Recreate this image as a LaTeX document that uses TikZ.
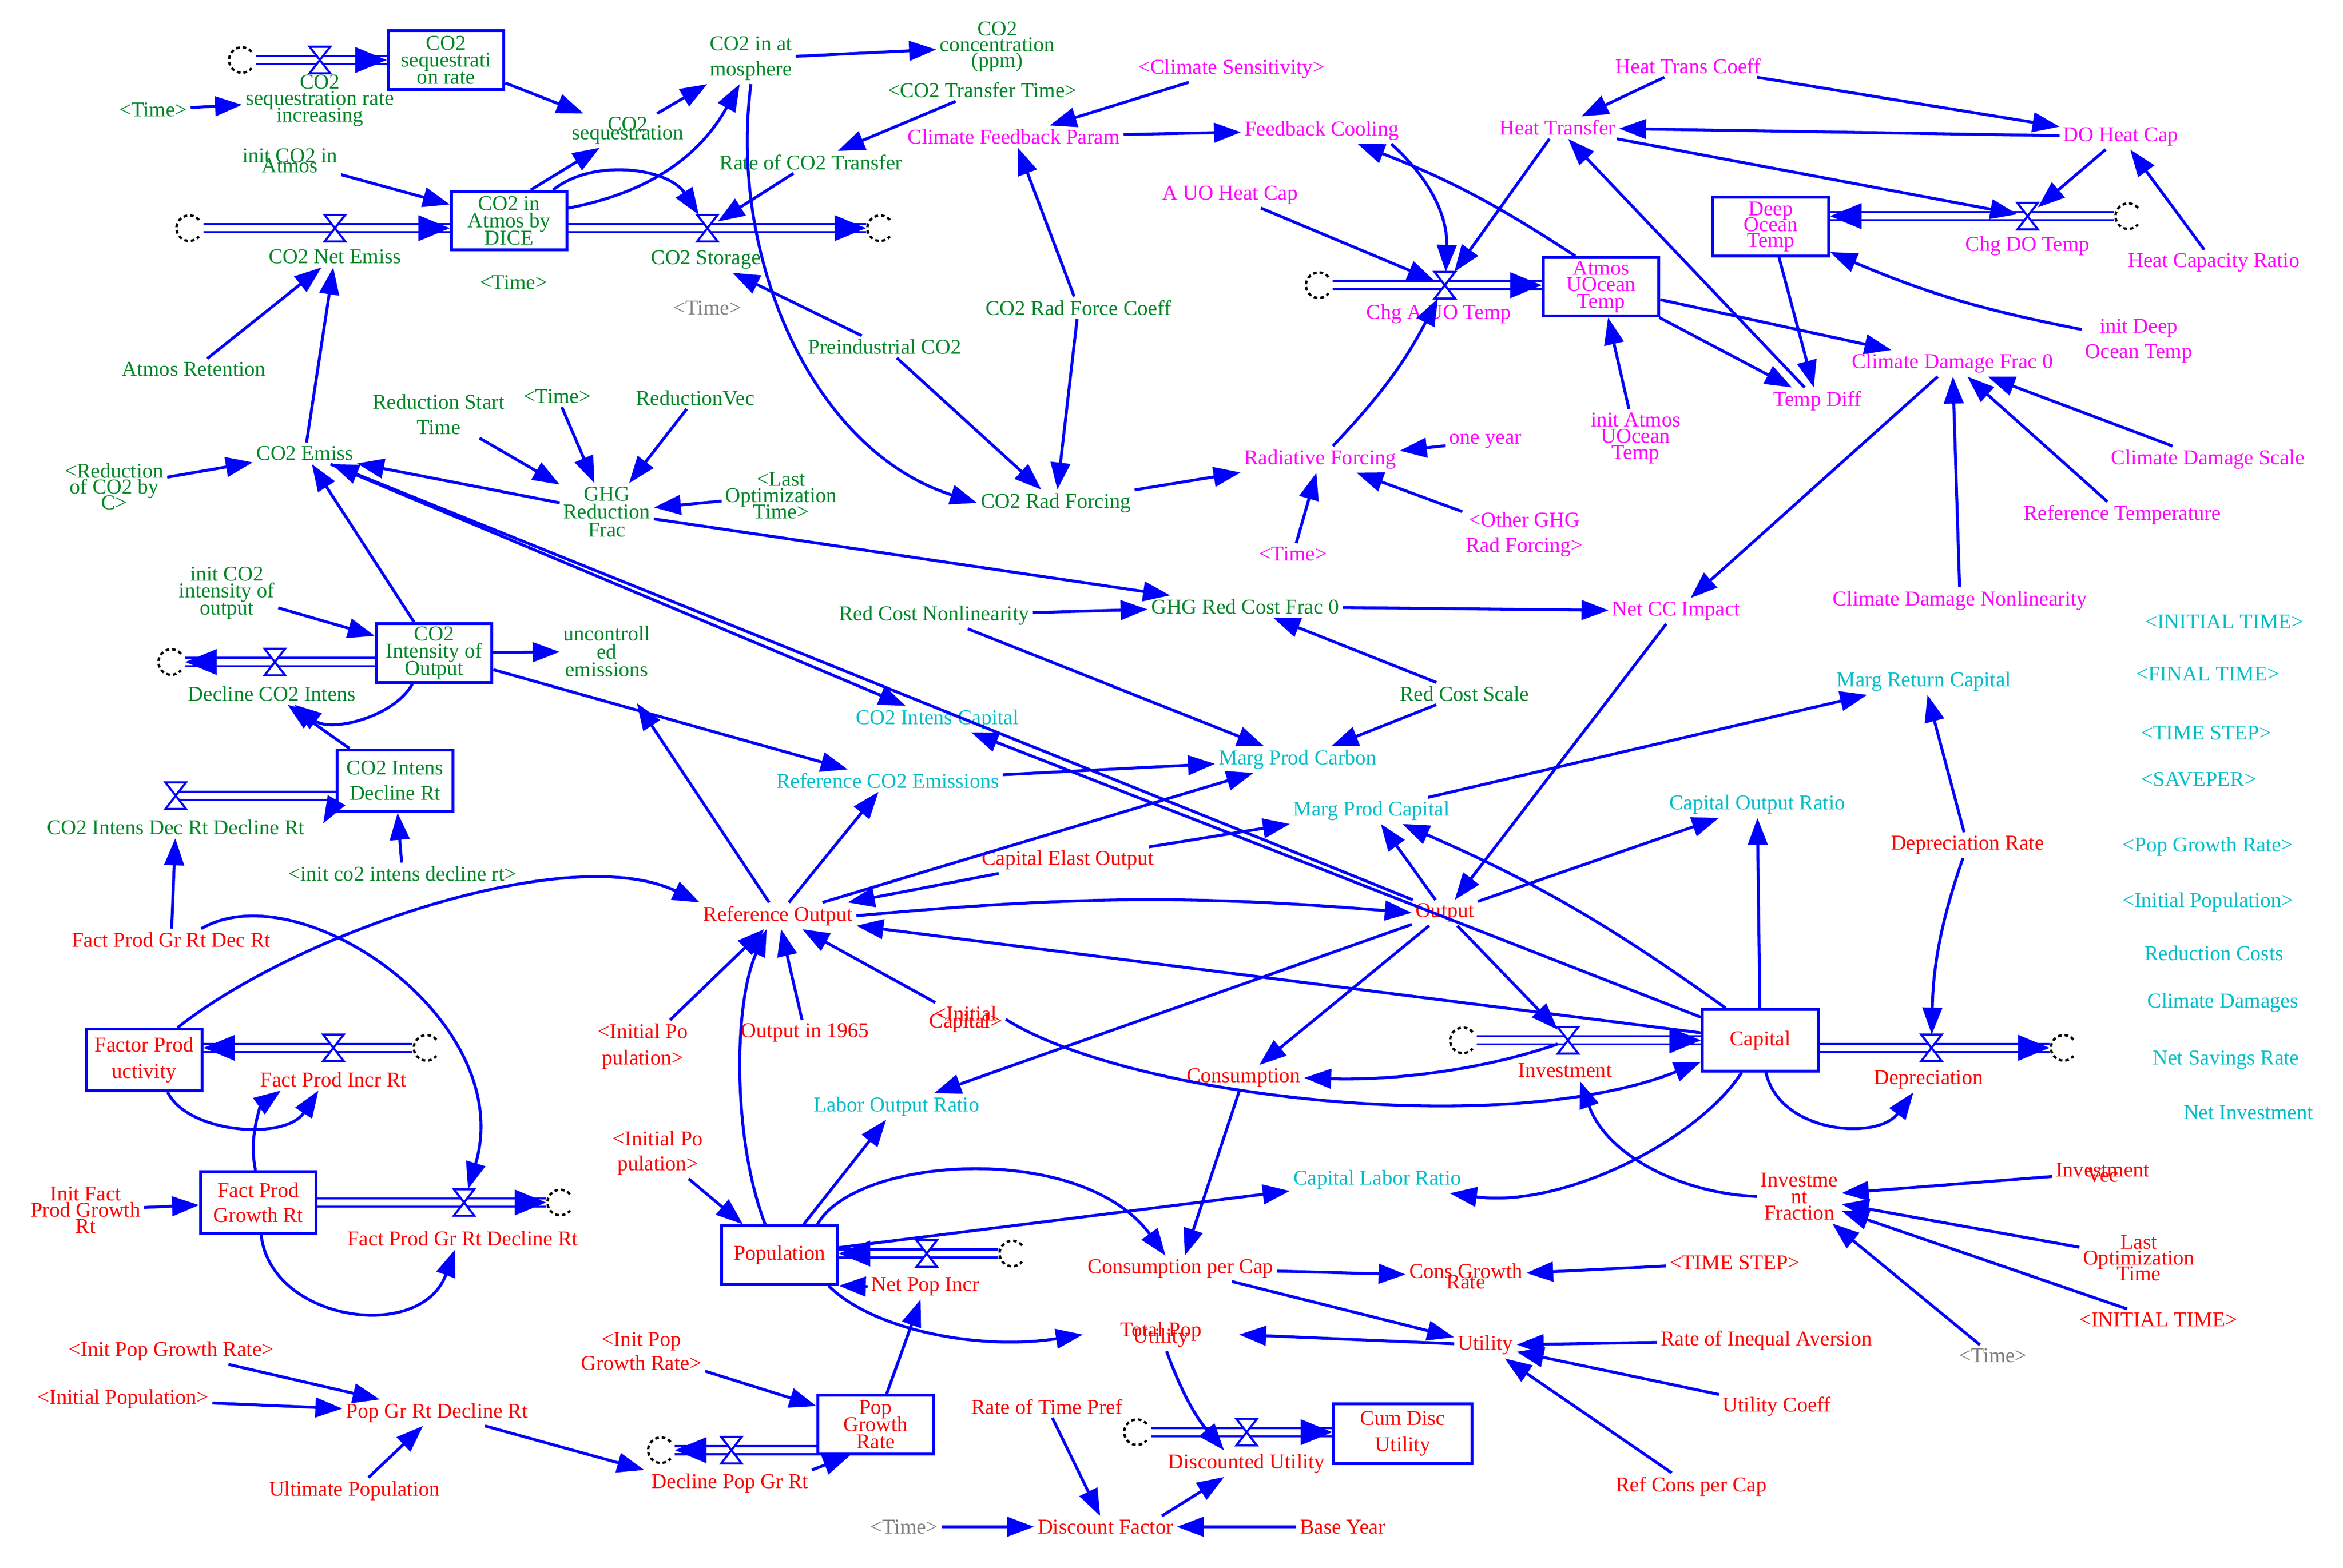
\documentclass[tikz,border=0pt]{standalone}
\usepackage{fontspec}
\setmainfont{Liberation Serif}
\usetikzlibrary{arrows.meta}
\definecolor{cgreen}{RGB}{0,135,40}
\definecolor{cmag}{RGB}{255,0,255}
\definecolor{cred}{RGB}{255,0,0}
\definecolor{ccyan}{RGB}{0,190,200}
\definecolor{cgray}{RGB}{128,128,128}
\definecolor{cblue}{RGB}{0,0,255}
\tikzset{
 lblbase/.style={inner sep=1.2pt, align=center, font={\fontsize{8}{9.6}\selectfont\lineskiplimit=-20pt}},
 lsk/.style={font={\fontsize{8}{#1}\selectfont\lineskiplimit=-20pt}},
 tg/.style={lblbase, text=cgreen},
 tm/.style={lblbase, text=cmag},
 tr/.style={lblbase, text=cred},
 tc/.style={lblbase, text=ccyan},
 tgy/.style={lblbase, text=cgray},
 stock/.style={draw=cblue, line width=1.1pt, fill=white, minimum width=1.54cm, minimum height=0.78cm},
 arr/.style={draw=cblue, line width=1.1pt, -{Triangle[length=0.36cm,width=0.26cm]}},
 pipe/.style={draw=cblue, double=white, line width=0.8pt, double distance=2.3pt},
 ptip/.style={draw=cblue, line width=0.8pt, -{Triangle[length=0.42cm,width=0.34cm]}},
 valvenode/.style={inner sep=0pt, minimum width=0.26cm, minimum height=0.34cm},
 cloudnode/.style={circle, inner sep=0pt, minimum size=0.36cm},
 valvest/.style={draw=cblue, line width=0.8pt, fill=white, line join=miter},
 cloudst/.style={draw=black, line width=0.9pt, dash pattern=on 1.4pt off 1.1pt},
}
\newcommand{\valveX}[1]{\draw[valvest] (#1.north west) -- (#1.north east) -- (#1.center) -- cycle (#1.south west) -- (#1.south east) -- (#1.center) -- cycle;}
\newcommand{\cloudC}[1]{\draw[cloudst] (#1.center) ++(40:0.17cm) arc[start angle=40,end angle=320,radius=0.17cm];}
\begin{document}
\begin{tikzpicture}[x=0.02cm,y=-0.02cm]
\fill[white] (0,0) rectangle (1560,1044.46);
\useasboundingbox (0,0) rectangle (1560,1044.46);
% ---------------- green
\node[cloudnode] (cl1) at (161,40) {};
\node[valvenode] (v1) at (213,40) {};
\node[stock,tg,lsk=6.5pt] (bSeq) at (297,40) {CO2\\sequestrati\\on rate};
\node[tg,lsk=6.2pt] (sri) at (213,67) {CO2\\sequestration rate\\increasing};
\node[tg] (t1) at (102,73) {<Time>};
\node[tg,lsk=3.2pt] (seq) at (418,87) {CO2\\sequestration};
\node[tg] (atm) at (500,39) {CO2 in at\\mosphere};
\node[tg,lsk=6pt] (conc) at (664,31) {CO2\\concentration\\(ppm)};
\node[tg] (ctt) at (654,60) {<CO2 Transfer Time>};
\node[tg] (rct) at (540,108) {Rate of CO2 Transfer};
\node[tg,lsk=3.8pt] (ica) at (193,107) {init CO2 in\\Atmos};
\node[cloudnode] (cl2) at (126,152) {};
\node[valvenode] (v2) at (223,152) {};
\node[tg] (cne) at (223,171) {CO2 Net Emiss};
\node[stock,tg,lsk=6.5pt] (bAtm) at (339,147) {CO2 in\\Atmos by\\DICE};
\node[valvenode] (v3) at (471,152) {};
\node[tg] (cst) at (470,173) {CO2 Storage};
\node[cloudnode] (cl3) at (586,152) {};
\node[tg] (t2) at (342,188) {<Time>};
\node[tgy] (t3) at (471,205) {<Time>};
\node[tg] (aret) at (129,246) {Atmos Retention};
\node[tg] (pre) at (589,231) {Preindustrial CO2};
\node[tg] (crfc) at (718,205) {CO2 Rad Force Coeff};
\node[tg] (rst) at (292,276) {Reduction Start\\Time};
\node[tg] (t4) at (371,264) {<Time>};
\node[tg] (rvec) at (463,265) {ReductionVec};
\node[tg,lsk=6pt] (rco2) at (76,324) {<Reduction\\of CO2 by\\C>};
\node[tg] (emiss) at (203,302) {CO2 Emiss};
\node[tg,lsk=6.8pt] (ghg) at (404,341) {GHG\\Reduction\\Frac};
\node[tg,lsk=6.2pt] (lot) at (520,330) {<Last\\Optimization\\Time>};
\node[tg] (crf) at (703,335) {CO2 Rad Forcing};
\node[tg,lsk=6.5pt] (ici) at (151,395) {init CO2\\intensity of\\output};
\node[stock,tg,lsk=6.5pt] (bInt) at (289,435) {CO2\\Intensity of\\Output};
\node[tg,lsk=6.8pt] (unc) at (404,434) {uncontroll\\ed\\emissions};
\node[cloudnode] (cl4) at (114,441) {};
\node[valvenode] (v4) at (183,441) {};
\node[tg] (dci) at (181,462) {Decline CO2 Intens};
\node[stock,tg,minimum height=0.82cm] (bIDR) at (263,520) {CO2 Intens\\Decline Rt};
\node[valvenode] (v5) at (117,530) {};
\node[tg] (cidr) at (117,551) {CO2 Intens Dec Rt Decline Rt};
\node[tg] (icidr) at (268,582) {<init co2 intens decline rt>};
\node[tg] (rcn) at (622,410) {Red Cost Nonlinearity};
\node[tg] (ghgrc) at (829,404) {GHG Red Cost Frac 0};
\node[tg] (rcs) at (975,462) {Red Cost Scale};
% ---------------- magenta
\node[tm] (cs) at (820,46) {<Climate Sensitivity>};
\node[tm] (cfp) at (675,91) {Climate Feedback Param};
\node[tm] (fc) at (880,87) {Feedback Cooling};
\node[tm] (ht) at (1037,85) {Heat Transfer};
\node[tm] (htc) at (1124,44) {Heat Trans Coeff};
\node[tm] (doh) at (1412,91) {DO Heat Cap};
\node[tm] (hcr) at (1474,175) {Heat Capacity Ratio};
\node[stock,tm,lsk=6pt] (bDOT) at (1179,151) {Deep\\Ocean\\Temp};
\node[cloudnode] (cl5) at (1417,144) {};
\node[valvenode] (v6) at (1350,144) {};
\node[tm] (cdot) at (1350,164) {Chg DO Temp};
\node[tm] (idot) at (1424,227) {init Deep\\Ocean Temp};
\node[tm] (auo) at (819,130) {A UO Heat Cap};
\node[cloudnode] (cl6) at (878,190) {};
\node[valvenode] (v7) at (962,190) {};
\node[tm] (cauo) at (958,209) {Chg A UO Temp};
\node[stock,tm,lsk=6.2pt] (bAUO) at (1066,191) {Atmos\\UOcean\\Temp};
\node[tm,lsk=6.2pt] (iauo) at (1089,292) {init Atmos\\UOcean\\Temp};
\node[tm] (td) at (1210,267) {Temp Diff};
\node[tm] (cdf) at (1300,242) {Climate Damage Frac 0};
\node[tm] (cds) at (1470,306) {Climate Damage Scale};
\node[tm] (rtemp) at (1413,343) {Reference Temperature};
\node[tm] (cdn) at (1305,400) {Climate Damage Nonlinearity};
\node[tm] (rf) at (879,306) {Radiative Forcing};
\node[tm] (oy) at (989,294) {one year};
\node[tm] (oghg) at (1015,356) {<Other GHG\\Rad Forcing>};
\node[tm] (t5) at (861,369) {<Time>};
\node[tm] (ncc) at (1116,407) {Net CC Impact};
% ---------------- cyan
\node[tc] (cic) at (624,479) {CO2 Intens Capital};
\node[tc] (rce) at (591,520) {Reference CO2 Emissions};
\node[tc] (mpc) at (864,506) {Marg Prod Carbon};
\node[tc] (mpk) at (913,540) {Marg Prod Capital};
\node[tc] (cor) at (1170,536) {Capital Output Ratio};
\node[tc] (mrc) at (1281,454) {Marg Return Capital};
\node[tc] (lor) at (597,737) {Labor Output Ratio};
\node[tc] (clr) at (917,786) {Capital Labor Ratio};
\node[tc] (q1) at (1481,414) {<INITIAL TIME>};
\node[tc] (q2) at (1470,449) {<FINAL TIME>};
\node[tc] (q3) at (1469,488) {<TIME STEP>};
\node[tc] (q4) at (1464,519) {<SAVEPER>};
\node[tc] (q5) at (1470,564) {<Pop Growth Rate>};
\node[tc] (q6) at (1470,601) {<Initial Population>};
\node[tc] (q7) at (1474,635) {Reduction Costs};
\node[tc] (q8) at (1480,668) {Climate Damages};
\node[tc] (q9) at (1482,706) {Net Savings Rate};
\node[tc] (q10) at (1497,741) {Net Investment};
% ---------------- red
\node[tr] (ro) at (518,610) {Reference Output};
\node[tr] (out) at (962,608) {Output};
\node[tr] (ceo) at (711,573) {Capital Elast Output};
\node[tr,lsk=2.7pt] (ic) at (643,679) {<Initial\\Capital>};
\node[tr] (o65) at (536,688) {Output in 1965};
\node[tr,lsk=10pt] (ip1) at (428,697) {<Initial Po\\pulation>};
\node[tr] (ip2) at (438,768) {<Initial Po\\pulation>};
\node[tr] (fpg) at (114,626) {Fact Prod Gr Rt Dec Rt};
\node[stock,tr,lsk=10pt,minimum height=0.82cm] (bFP) at (96,706) {Factor Prod\\uctivity};
\node[cloudnode] (cl7) at (284,698) {};
\node[valvenode] (v8) at (222,698) {};
\node[tr] (fpir) at (222,719) {Fact Prod Incr Rt};
\node[stock,tr,minimum height=0.82cm] (bFPG) at (172,801) {Fact Prod\\Growth Rt};
\node[tr,lsk=6.2pt] (ifpg) at (57,806) {Init Fact\\Prod Growth\\Rt};
\node[cloudnode] (cl8) at (373,801) {};
\node[valvenode] (v9) at (309,801) {};
\node[tr] (fpgdr) at (308,825) {Fact Prod Gr Rt Decline Rt};
\node[tr] (ipgr) at (114,900) {<Init Pop Growth Rate>};
\node[tr] (ipop) at (82,932) {<Initial Population>};
\node[tr] (pgrdr) at (291,941) {Pop Gr Rt Decline Rt};
\node[tr] (up) at (236,993) {Ultimate Population};
\node[tr,lsk=9pt] (ipgr2) at (427,900) {<Init Pop\\Growth Rate>};
\node[stock,tr,lsk=6.5pt] (bPGR) at (583,949) {Pop\\Growth\\Rate};
\node[cloudnode] (cl9) at (440,966) {};
\node[valvenode] (v10) at (487,966) {};
\node[tr] (dpgr) at (486,988) {Decline Pop Gr Rt};
\node[stock,tr] (bPop) at (519,836) {Population};
\node[cloudnode] (cl10) at (674,835) {};
\node[valvenode] (v14) at (617,835) {};
\node[tr] (npi) at (616,857) {Net Pop Incr};
\node[tr] (cons) at (828,718) {Consumption};
\node[tr] (cpc) at (786,845) {Consumption per Cap};
\node[tr,lsk=4pt] (cgr) at (976,850) {Cons Growth\\Rate};
\node[tr] (ts) at (1155,841) {<TIME STEP>};
\node[tr,lsk=2.5pt] (tpu) at (773,889) {Total Pop\\Utility};
\node[tr] (util) at (989,896) {Utility};
\node[tr] (ria) at (1176,893) {Rate of Inequal Aversion};
\node[tr] (uc) at (1183,937) {Utility Coeff};
\node[tr] (rcpc) at (1126,990) {Ref Cons per Cap};
\node[tr] (rtp) at (697,937) {Rate of Time Pref};
\node[cloudnode] (cl11) at (757,954) {};
\node[valvenode] (v11) at (830,954) {};
\node[tr] (du) at (830,975) {Discounted Utility};
\node[stock,tr,lsk=10pt,minimum width=1.84cm,minimum height=0.8cm] (bCDU) at (934,955) {Cum Disc\\Utility};
\node[tgy] (t6) at (602,1017) {<Time>};
\node[tr] (df) at (736,1017) {Discount Factor};
\node[tr] (by) at (894,1017) {Base Year};
\node[cloudnode] (cl13) at (974,693) {};
\node[valvenode] (v12) at (1044,693) {};
\node[tr] (inv) at (1042,713) {Investment};
\node[stock,tr,minimum height=0.82cm] (bCap) at (1172,693) {Capital};
\node[valvenode] (v13) at (1286,698) {};
\node[tr] (dep) at (1284,719) {Depreciation};
\node[cloudnode] (cl12) at (1374,698) {};
\node[tr] (dr) at (1310,563) {Depreciation Rate};
\node[tr,lsk=6.2pt] (ifr) at (1198,797) {Investme\\nt\\Fraction};
\node[tr,lsk=2pt] (ivec) at (1400,781) {Investment\\Vec};
\node[tr,lsk=6pt] (lot2) at (1424,838) {Last\\Optimization\\Time};
\node[tr] (it2) at (1437,879) {<INITIAL TIME>};
\node[tgy] (t7) at (1327,903) {<Time>};
% ---------------- pipes
\coordinate (e1) at (bSeq.west |- cl1);
\draw[pipe] (cl1) -- (e1); \draw[ptip] ([xshift=-1pt]e1) -- (e1);
\coordinate (e2) at (bAtm.west |- cl2);
\draw[pipe] (cl2) -- (e2); \draw[ptip] ([xshift=-1pt]e2) -- (e2);
\coordinate (s3) at (bAtm.east |- cl3);
\draw[pipe] (s3) -- (cl3); \draw[ptip] ([xshift=-1pt]cl3.west) -- (cl3.west);
\coordinate (s4) at (bInt.west |- cl4);
\draw[pipe] (s4) -- (cl4); \draw[ptip] ([xshift=1pt]cl4.east) -- (cl4.east);
\coordinate (s5) at (bIDR.west |- v5);
\draw[pipe] (s5) -- (v5.center);
\coordinate (e6) at (bDOT.east |- cl5);
\draw[pipe] (cl5) -- (e6); \draw[ptip] ([xshift=1pt]e6) -- (e6);
\coordinate (e7) at (bAUO.west |- cl6);
\draw[pipe] (cl6) -- (e7); \draw[ptip] ([xshift=-1pt]e7) -- (e7);
\coordinate (e8) at (bFP.east |- cl7);
\draw[pipe] (cl7) -- (e8); \draw[ptip] ([xshift=1pt]e8) -- (e8);
\coordinate (s9) at (bFPG.east |- cl8);
\draw[pipe] (s9) -- (cl8); \draw[ptip] ([xshift=-1pt]cl8.west) -- (cl8.west);
\coordinate (s10) at (bPGR.west |- cl9);
\draw[pipe] (s10) -- (cl9); \draw[ptip] ([xshift=1pt]cl9.east) -- (cl9.east);
\coordinate (e14) at (bPop.east |- cl10);
\draw[pipe] (cl10) -- (e14); \draw[ptip] ([xshift=1pt]e14) -- (e14);
\coordinate (e11) at (bCDU.west |- cl11);
\draw[pipe] (cl11) -- (e11); \draw[ptip] ([xshift=-1pt]e11) -- (e11);
\coordinate (e12) at (bCap.west |- cl13);
\draw[pipe] (cl13) -- (e12); \draw[ptip] ([xshift=-1pt]e12) -- (e12);
\coordinate (s13) at (bCap.east |- cl12);
\draw[pipe] (s13) -- (cl12); \draw[ptip] ([xshift=-1pt]cl12.west) -- (cl12.west);
\foreach \v in {v1,v2,v3,v4,v5,v6,v7,v8,v9,v10,v11,v12,v13,v14} {\valveX{\v}}
\foreach \c in {cl1,cl2,cl3,cl4,cl5,cl6,cl7,cl8,cl9,cl10,cl11,cl12,cl13} {\cloudC{\c}}
% ---------------- links: green
\draw[arr] (t1) -- (sri);
\draw[arr] (bSeq) -- (seq);
\draw[arr] (seq) -- (atm);
\draw[arr] (atm) -- (conc);
\draw[arr] (ctt) -- (rct);
\draw[arr] (rct) -- (v3);
\draw[arr] (ica) -- (bAtm);
\draw[arr] (bAtm.55) -- (seq);
\draw[arr] (bAtm.12) to[bend right=25] ([xshift=-0.15cm]atm.south);
\draw[arr] (bAtm.35) .. controls (395,105) and (445,112) .. (v3);
\draw[arr] (atm.south) .. controls (485,170) and (540,300) .. (crf.west);
\draw[arr] (pre) -- (cst);
\draw[arr] (pre) -- (crf);
\draw[arr] (crfc) -- (crf);
\draw[arr] (crfc) -- (cfp);
\draw[arr] (crf) -- (rf);
\draw[arr] (aret) -- (cne);
\draw[arr] (emiss) -- (cne);
\draw[arr] (rco2) -- (emiss);
\draw[arr] (ghg) -- (emiss);
\draw[arr] (out) -- (emiss);
\draw[arr] (emiss) -- (cic);
\draw[arr] (bCap) -- (cic);
\draw[arr] (rst) -- (ghg);
\draw[arr] (t4) -- (ghg);
\draw[arr] (rvec) -- (ghg);
\draw[arr] (lot) -- (ghg);
\draw[arr] (ghg) -- (ghgrc);
\draw[arr] (rcn) -- (ghgrc);
\draw[arr] (ghgrc) -- (ncc);
\draw[arr] (rcs) -- (ghgrc);
\draw[arr] (rcs) -- (mpc);
\draw[arr] (rcn) -- (mpc);
\draw[arr] (bInt) -- (emiss);
\draw[arr] (bInt) -- (rce);
\draw[arr] (ici) -- (bInt);
\draw[arr] (bInt) -- (unc);
\draw[arr] (bInt.235) .. controls (262,478) and (220,488) .. ([xshift=0.3cm]dci.south);
\draw[arr] (bIDR) -- (dci);
\draw[arr] ([yshift=0.15cm]bIDR.south west) -- ([xshift=0.2cm,yshift=-0.1cm]cidr.north east);
\draw[arr] (icidr) -- (bIDR);
\draw[arr] (fpg) -- (cidr);
% ---------------- links: magenta
\draw[arr] (cs) -- (cfp);
\draw[arr] (cfp) -- (fc);
\draw[arr] (htc) -- (ht);
\draw[arr] (htc) -- (doh);
\draw[arr] (doh) -- (ht);
\draw[arr] (ht) -- (v6);
\draw[arr] (doh) -- (v6);
\draw[arr] (hcr) -- (doh);
\draw[arr] (idot) to[bend left=6] (bDOT);
\draw[arr] (bDOT) -- (td);
\draw[arr] (auo) -- (v7);
\draw[arr] ([xshift=-0.15cm]fc.south east) to[bend left=25] (v7);
\draw[arr] (ht) -- (v7);
\draw[arr] (rf) to[bend right=8] (v7);
\draw[arr] (bAUO.130) to[bend right=6] (fc);
\draw[arr] (iauo) -- (bAUO);
\draw[arr] (bAUO) -- (cdf);
\draw[arr] (bAUO) -- (td);
\draw[arr] (td) -- (ht);
\draw[arr] (cds) -- (cdf);
\draw[arr] (rtemp) -- (cdf);
\draw[arr] (cdn) -- (cdf);
\draw[arr] (cdf) -- (ncc);
\draw[arr] (oy) -- (rf);
\draw[arr] (oghg) -- (rf);
\draw[arr] (t5) -- (rf);
\draw[arr] (ncc) -- (out);
% ---------------- links: economy
\draw[arr] (rce) -- (mpc);
\draw[arr] (ro) -- (rce);
\draw[arr] (ro) -- (mpc);
\draw[arr] (ro) -- ([xshift=0.4cm,yshift=-0.3cm]unc.south);
\draw[arr] (ceo) -- (ro);
\draw[arr] (ceo) -- (mpk);
\draw[arr] (out) -- (mpk);
\draw[arr] (bCap.137) to[bend right=6] (mpk);
\draw[arr] (mpk) -- (mrc);
\draw[arr] (dr) -- (mrc);
\draw[arr] (out) -- (cor);
\draw[arr] (bCap) -- (cor);
\draw[arr] (ro.east) to[bend left=5] (out.west);
\draw[arr] (bCap) -- (ro);
\draw[arr] (ic) -- (ro);
\draw[arr] (o65) -- (ro);
\draw[arr] (ip1) -- (ro);
\draw[arr] (bPop.115) .. controls (488,760) and (488,670) .. ([xshift=-0.15cm]ro.south);
\draw[arr] (bFP.44) .. controls (200,620) and (380,560) .. (ro.north west);
\draw[arr] ([xshift=0.4cm]fpg.north) .. controls (200,580) and (345,680) .. (v9);
\draw[arr] (bFP.-54) .. controls (125,755) and (190,760) .. ([xshift=-0.2cm]fpir.south);
\draw[arr] (bFPG.95) .. controls (165,755) and (175,735) .. ([xshift=-0.7cm]fpir.south);
\draw[arr] (ifpg) -- (bFPG);
\draw[arr] (bFPG.-85) .. controls (180,880) and (280,895) .. ([xshift=-0.1cm]fpgdr.south);
\draw[arr] (ipgr) -- (pgrdr);
\draw[arr] (ipop) -- (pgrdr);
\draw[arr] (up) -- (pgrdr);
\draw[arr] (pgrdr) -- ([xshift=-0.05cm]dpgr.north west);
\draw[arr] (ipgr2) -- (bPGR);
\draw[arr] (dpgr.north east) -- ([xshift=0.45cm]bPGR.south west);
\draw[arr] (bPGR) -- (npi);
\draw[arr] (npi.west) -- (bPop.south east);
\draw[arr] (ip2) -- (bPop);
\draw[arr] (bPop) -- (lor);
\draw[arr] (bPop.39) .. controls (570,770) and (720,760) .. ([xshift=-0.2cm]cpc.north);
\draw[arr] (bPop) -- (clr);
\draw[arr] (bPop.-32) .. controls (580,885) and (650,900) .. ([xshift=-0.45cm]tpu.west);
\draw[arr] (out) -- (cons);
\draw[arr] (out) -- (lor);
\draw[arr] (out) -- (v12);
\draw[arr] (v12) .. controls (990,712) and (930,720) .. (cons.east);
\draw[arr] (cons) -- (cpc);
\draw[arr] (ic.east) .. controls (750,730) and (1000,760) .. (bCap.200);
\draw[arr] (bCap.-120) .. controls (1130,760) and (1040,805) .. ([xshift=-0.2cm]clr.south east);
\draw[arr] (ifr.west) .. controls (1120,795) and (1070,770) .. ([xshift=0.2cm]inv.south);
\draw[arr] (bCap.-80) .. controls (1185,755) and (1250,760) .. ([xshift=-0.2cm]dep.south);
\draw[arr] (dr) .. controls (1290,620) and (1287,650) .. (v13);
\draw[arr] (ivec) -- (ifr);
\draw[arr] (lot2) -- (ifr);
\draw[arr] (it2) -- (ifr);
\draw[arr] (t7) -- (ifr);
\draw[arr] (ts) -- (cgr);
\draw[arr] (cpc) -- (cgr);
\draw[arr] (cpc) -- (util);
\draw[arr] (util) -- ([xshift=0.45cm]tpu.east);
\draw[arr] (tpu) to[bend right=10] ([xshift=-0.3cm]du.north);
\draw[arr] (ria) -- (util);
\draw[arr] (uc) -- (util);
\draw[arr] (rcpc) -- (util);
\draw[arr] (rtp) -- (df);
\draw[arr] (t6) -- (df);
\draw[arr] (by) -- (df);
\draw[arr] ([xshift=-0.2cm]df.north east) -- ([xshift=-0.3cm]du.south);
\end{tikzpicture}
\end{document}
